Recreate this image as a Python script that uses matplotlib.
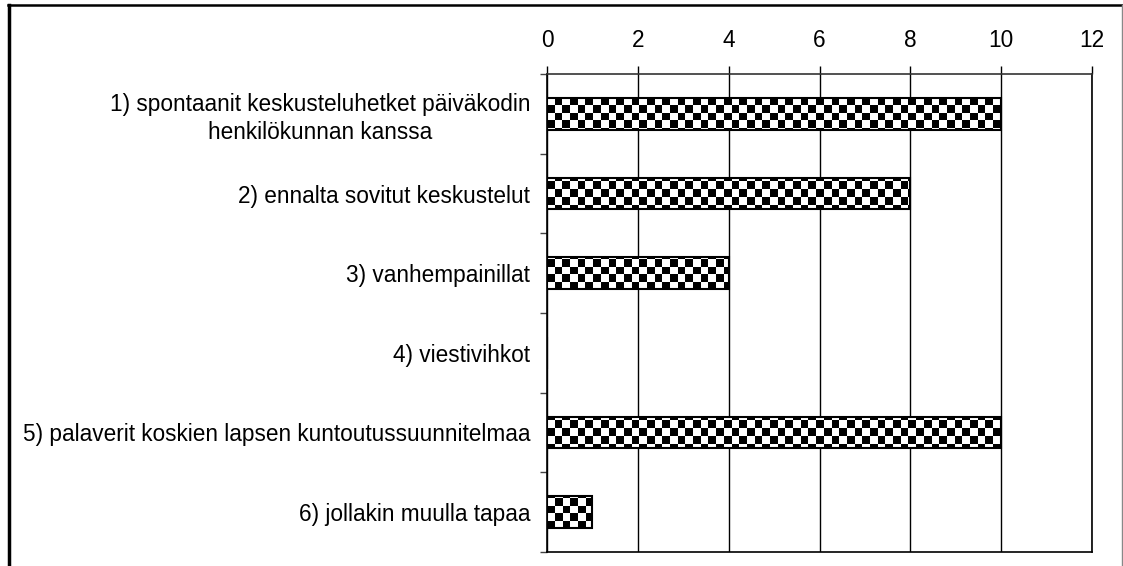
import matplotlib.pyplot as plt
import numpy as np
from matplotlib.lines import Line2D

categories = ["1) spontaanit keskusteluhetket päiväkodin\nhenkilökunnan kanssa",
              "2) ennalta sovitut keskustelut",
              "3) vanhempainillat",
              "4) viestivihkot",
              "5) palaverit koskien lapsen kuntoutussuunnitelmaa",
              "6) jollakin muulla tapaa"]
values = [10, 8, 4, 0, 10, 1]
xticks = [0, 2, 4, 6, 8, 10, 12]

plt.rcParams['font.family'] = ['Liberation Sans', 'DejaVu Sans']

W, H = 1123, 566
fig = plt.figure(figsize=(W / 100, H / 100), dpi=100)
ax = fig.add_axes([547 / W, 1 - 552 / H, (1092 - 547) / W, (552 - 74) / H])

y = np.arange(len(categories))
bars = ax.barh(y, values, height=0.4, color='white', edgecolor='black', linewidth=1.5, zorder=3)

# checkerboard fill, clipped to each bar
ncx, ncy = int(545 / 7.6), int(478 / 7.6)
board = (np.add.outer(np.arange(ncy), np.arange(ncx)) % 2).astype(float)
for b in bars:
    if b.get_width() == 0:
        continue
    im = ax.imshow(board, cmap='gray', vmin=0, vmax=1, interpolation='nearest',
                   extent=[0, 1, 0, 1], transform=ax.transAxes, aspect='auto', zorder=2.5)
    im.set_clip_path(b)
    b.set_facecolor('none')

ax.set_xlim(0, 12)
ax.set_ylim(len(categories) - 0.5, -0.5)
ax.set_xticks(xticks)
ax.xaxis.tick_top()
ax.tick_params(axis='x', direction='out', length=6, width=1, pad=10, labelsize=16.3)
ax.set_yticks(y)
ax.set_yticklabels(categories, fontsize=16.3, multialignment='center', linespacing=1.25)
ax.tick_params(axis='y', which='major', length=0, pad=12)
ax.set_yticks(np.arange(-0.5, len(categories) + 0.5, 1), minor=True)
ax.tick_params(axis='y', which='minor', direction='out', length=5, width=1, color='#444444')
ax.grid(axis='x', color='black', linewidth=1, zorder=1)
for s in ax.spines.values():
    s.set_linewidth(1.2)
ax.spines['top'].set_color('#333333')

# outer frame
fig.add_artist(Line2D([8.5 / W, 8.5 / W], [0, 1 - 5 / H], color='black', lw=2.5))
fig.add_artist(Line2D([8 / W, 1122 / W], [1 - 5 / H, 1 - 5 / H], color='black', lw=1.8))
fig.add_artist(Line2D([1122 / W, 1122 / W], [0, 1 - 5 / H], color='#888888', lw=1))

fig.savefig('out.png', dpi=100)
